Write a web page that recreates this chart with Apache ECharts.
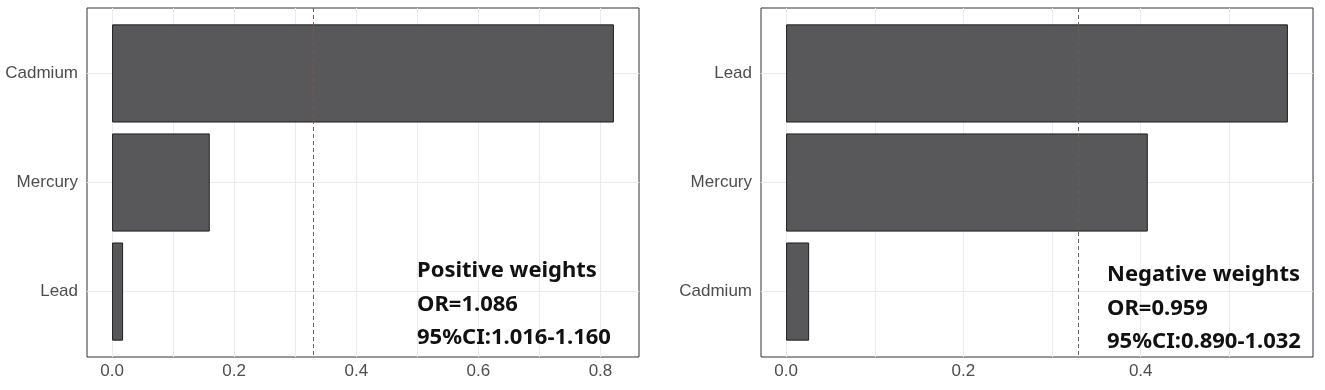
<!DOCTYPE html>
<html>
<head>
<meta charset="utf-8">
<script src="https://cdn.jsdelivr.net/npm/echarts@6/dist/echarts.min.js"></script>
<style>
html, body { margin: 0; padding: 0; background: #fff; }
#main { width: 1325px; height: 390px; }
</style>
</head>
<body>
<div id="main"></div>
<script>
// left panel: positive weights (top to bottom)
var posNames = ['Cadmium', 'Mercury', 'Lead'];
var posWeights = [0.822, 0.160, 0.018];
var posTicks = [0, 0.2, 0.4, 0.6, 0.8];
var posGridVals = [0, 0.1, 0.2, 0.3, 0.4, 0.5, 0.6, 0.7, 0.8];
var posText = ['Positive weights', 'OR=1.086', '95%CI:1.016-1.160'];

// right panel: negative weights (top to bottom)
var negNames = ['Lead', 'Mercury', 'Cadmium'];
var negWeights = [0.566, 0.408, 0.026];
var negTicks = [0, 0.2, 0.4];
var negGridVals = [0, 0.1, 0.2, 0.3, 0.4, 0.5];
var negText = ['Negative weights', 'OR=0.959', '95%CI:0.890-1.032'];

var labelFont = "'Liberation Sans', Arial, sans-serif";
var gridColor = '#ebebeb';

var option = {
    animation: false,
    backgroundColor: '#fff',
    title: [],
    grid: [],
    xAxis: [],
    yAxis: [],
    series: []
};

function addPanel(left, width, names, weights, ticks, gridVals, lines, textLeft, textTop) {
    var top = 8, height = 349;
    var n = names.length;
    var unit = height / (n + 0.2);   // ggplot style 0.6 expansion on discrete axis
    var maxW = Math.max.apply(null, weights);
    var xMin = -0.05 * maxW, xMax = 1.05 * maxW;
    var g = option.grid.length;

    // outer frame with grid lines
    option.grid.push({
        left: left, top: top, width: width, height: height, outerBoundsMode: 'none',
        show: true, borderColor: '#33333a', borderWidth: 1, backgroundColor: 'transparent'
    });
    // bar area
    option.grid.push({
        left: left, top: top + unit * 0.1, width: width, height: unit * n, outerBoundsMode: 'none'
    });

    option.xAxis.push({
        gridIndex: g, type: 'value', min: xMin, max: xMax,
        axisLine: { show: false },
        axisTick: { show: false, customValues: gridVals },
        axisLabel: {
            customValues: ticks, margin: 6, color: '#4d4d4d',
            fontSize: 17, fontFamily: labelFont,
            formatter: function (v) { return v.toFixed(1); }
        },
        splitLine: { show: true, lineStyle: { color: gridColor, width: 1 } }
    });
    option.xAxis.push({
        gridIndex: g + 1, type: 'value', min: xMin, max: xMax, show: false
    });

    var centers = names.map(function (d, i) { return i + 1; });
    option.yAxis.push({
        gridIndex: g, type: 'value', min: 0.4, max: n + 0.6, inverse: true,
        axisLine: { show: false },
        axisTick: { show: false, customValues: centers },
        axisLabel: { show: false },
        splitLine: { show: true, lineStyle: { color: gridColor, width: 1 } }
    });
    option.yAxis.push({
        gridIndex: g + 1, type: 'category', data: names, inverse: true,
        axisLine: { show: false },
        axisTick: { show: false },
        axisLabel: { margin: 9, color: '#4d4d4d', fontSize: 17, fontFamily: labelFont },
        splitLine: { show: false }
    });

    // threshold 1/n as dashed reference line across the frame
    option.series.push({
        type: 'line', xAxisIndex: g, yAxisIndex: g, data: [],
        markLine: {
            silent: true, symbol: 'none', label: { show: false },
            lineStyle: { type: [4, 3], color: '#7a5656', width: 1 },
            data: [{ xAxis: 1 / n }]
        }
    });
    option.series.push({
        type: 'bar', xAxisIndex: g + 1, yAxisIndex: g + 1,
        data: weights, barCategoryGap: '10%',
        itemStyle: { color: '#58585a', borderColor: '#1e1e1e', borderWidth: 1 }
    });

    option.title.push({
        text: lines.join('\n'), left: textLeft, top: textTop, padding: 0,
        textStyle: {
            fontSize: 22, fontWeight: 'bold', fontFamily: "'Noto Sans', sans-serif",
            color: '#111', lineHeight: 33.5
        }
    });
}

addPanel(87, 552, posNames, posWeights, posTicks, posGridVals, posText, 417, 254);
addPanel(761, 552, negNames, negWeights, negTicks, negGridVals, negText, 1107, 258);

var myChart = echarts.init(document.getElementById('main'));
myChart.setOption(option);
</script>
</body>
</html>
